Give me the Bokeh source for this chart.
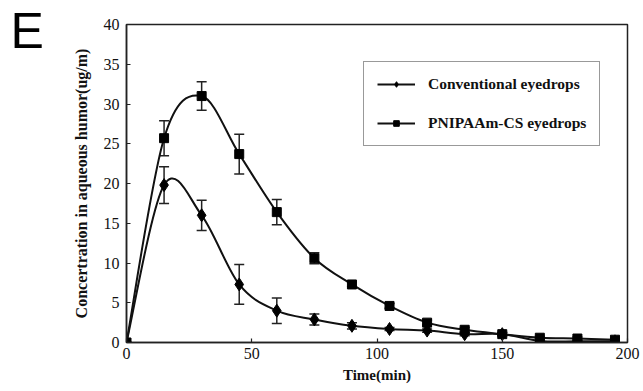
from bokeh.plotting import figure
from bokeh.models import (ColumnDataSource, Whisker, TeeHead, Legend, LegendItem,
                          Label, FixedTicker, Range1d)
from bokeh.embed import file_html
from bokeh.resources import INLINE

# ---- data ----
time_min = [0, 15, 30, 45, 60, 75, 90, 105, 120, 135, 150, 165, 180, 195]
conv = [0.0, 19.8, 16.0, 7.3, 4.0, 2.9, 2.1, 1.7, 1.5, 1.05, 1.05, 0.2, 0.15, 0.15]
conv_err = [0.0, 2.3, 1.9, 2.5, 1.6, 0.7, 0.4, 0.2, 0.2, 0.2, 0.2, 0.2, 0.1, 0.1]
pnip = [0.0, 25.7, 31.0, 23.7, 16.4, 10.6, 7.3, 4.6, 2.5, 1.6, 1.05, 0.6, 0.5, 0.35]
pnip_err = [0.0, 2.2, 1.8, 2.5, 1.6, 0.7, 0.3, 0.3, 0.3, 0.3, 0.2, 0.2, 0.2, 0.2]
x_ticks = [0, 50, 100, 150, 200]
y_ticks = [0, 5, 10, 15, 20, 25, 30, 35, 40]
series_names = ["Conventional eyedrops", "PNIPAAm-CS eyedrops"]

SERIF = "Liberation Serif"


def smooth_segments(xs, ys):
    """Catmull-Rom style (Excel-like) smoothing -> cubic Bezier control points."""
    n = len(xs)
    pts = list(zip(xs, ys))
    x0, y0, x1, y1, cx0, cy0, cx1, cy1 = [], [], [], [], [], [], [], []
    for i in range(n - 1):
        p0 = pts[i - 1] if i > 0 else pts[i]
        p1 = pts[i]
        p2 = pts[i + 1]
        p3 = pts[i + 2] if i + 2 < n else pts[i + 1]
        x0.append(p1[0]); y0.append(p1[1])
        x1.append(p2[0]); y1.append(p2[1])
        cx0.append(p1[0] + (p2[0] - p0[0]) / 6.0)
        cy0.append(p1[1] + (p2[1] - p0[1]) / 6.0)
        cx1.append(p2[0] - (p3[0] - p1[0]) / 6.0)
        cy1.append(p2[1] - (p3[1] - p1[1]) / 6.0)
    return dict(x0=x0, y0=y0, x1=x1, y1=y1, cx0=cx0, cy0=cy0, cx1=cx1, cy1=cy1)


p = figure(width=643, height=391, output_backend="svg", toolbar_location=None,
           x_range=Range1d(0, 200), y_range=Range1d(0, 40),
           min_border_left=126, min_border_right=16, min_border_top=24,
           min_border_bottom=49)
p.xgrid.visible = False
p.ygrid.visible = False
p.outline_line_color = "#222222"
p.outline_line_width = 1.5
p.background_fill_color = "white"
p.border_fill_color = "white"

for ax in (p.xaxis[0], p.yaxis[0]):
    ax.axis_line_color = "#222222"
    ax.axis_line_width = 1.5
    ax.major_tick_in = 4
    ax.major_tick_out = 0
    ax.major_tick_line_color = "#222222"
    ax.major_tick_line_width = 1.2
    ax.minor_tick_line_color = None
    ax.major_label_text_font = SERIF
    ax.major_label_text_font_size = "16px"
    ax.major_label_text_color = "#111111"
    ax.axis_label_text_font = SERIF
    ax.axis_label_text_font_style = "bold"
    ax.axis_label_text_color = "#111111"

p.xaxis.ticker = FixedTicker(ticks=x_ticks)
p.yaxis.ticker = FixedTicker(ticks=y_ticks)
p.xaxis.axis_label = "Time(min)"
p.yaxis.axis_label = "Concertration in aqueous humor(ug/m)"
p.xaxis.axis_label_text_font_size = "15px"
p.yaxis.axis_label_text_font_size = "16px"
p.xaxis.major_label_standoff = 5
p.xaxis.axis_label_standoff = 5
p.yaxis.major_label_standoff = 7
p.yaxis.axis_label_standoff = 11

items = []
for name, vals, errs, marker, msize in [
        (series_names[0], conv, conv_err, "diamond", 13),
        (series_names[1], pnip, pnip_err, "square", 9)]:
    seg = ColumnDataSource(smooth_segments(time_min, vals))
    p.bezier(x0="x0", y0="y0", x1="x1", y1="y1", cx0="cx0", cy0="cy0",
             cx1="cx1", cy1="cy1", source=seg, line_color="#111111", line_width=2)
    src = ColumnDataSource(dict(
        x=time_min, y=vals,
        upper=[v + e for v, e in zip(vals, errs)],
        lower=[v - e for v, e in zip(vals, errs)]))
    w = Whisker(base="x", upper="upper", lower="lower", source=src,
                line_color="#222222", line_width=1.5,
                upper_head=TeeHead(size=10, line_color="#222222", line_width=1.5),
                lower_head=TeeHead(size=10, line_color="#222222", line_width=1.5))
    p.add_layout(w)
    sc = p.scatter(x="x", y="y", source=src, marker=marker, size=msize,
                   fill_color="black", line_color="black")
    # legend-only line sample (kept outside the visible ranges)
    leg_line = p.line(x=[-100, -90], y=[-100, -100], line_color="#111111", line_width=2)
    items.append(LegendItem(label=name, renderers=[leg_line, sc]))

legend = Legend(items=items, location=(237, 196), orientation="vertical",
                border_line_color="#333333", border_line_width=1.5,
                background_fill_color="white", background_fill_alpha=1.0,
                label_text_font=SERIF, label_text_font_style="bold",
                label_text_font_size="15.5px", label_text_color="#111111",
                glyph_width=38, glyph_height=14, label_height=14,
                label_standoff=13, spacing=21, padding=13, margin=0)
p.add_layout(legend, "center")

p.add_layout(Label(x=-26, y=312, x_units="screen", y_units="screen", text="E",
                   text_font="Liberation Sans",
                   text_font_size="50px", text_color="black",
                   text_baseline="alphabetic", text_align="left"), "left")

open("out.html", "w").write(file_html(p, INLINE))
